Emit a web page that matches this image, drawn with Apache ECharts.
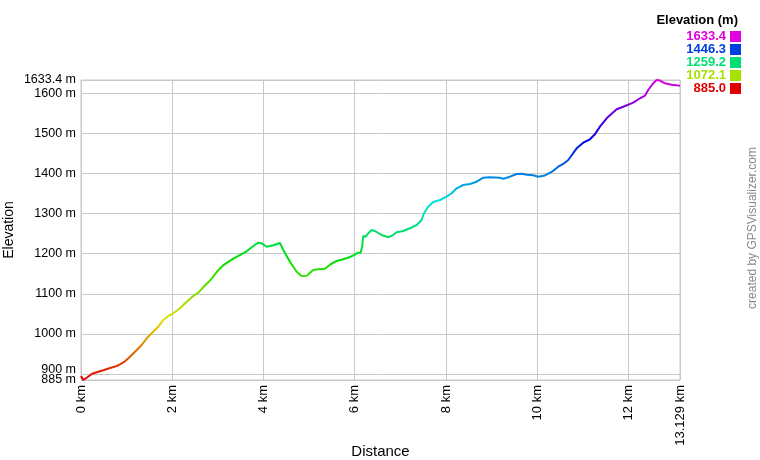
<!DOCTYPE html>
<html>
<head>
<meta charset="utf-8">
<script src="https://cdn.jsdelivr.net/npm/echarts@6/dist/echarts.min.js"></script>
<style>
html,body{margin:0;padding:0;background:#fff;}
#chart{width:760px;height:460px;}
</style>
</head>
<body>
<div id="chart"></div>
<script>
// distance along the track (km)
var distanceKm = [0, 0.05, 0.125, 0.234, 0.344, 0.489, 0.636, 0.782, 0.855, 0.964,
  1.074, 1.221, 1.330, 1.440, 1.549, 1.694, 1.804, 1.913, 2.023, 2.170,
  2.316, 2.461, 2.571, 2.680, 2.827, 2.974, 3.119, 3.338, 3.631, 3.776,
  3.886, 3.960, 4.070, 4.214, 4.361, 4.434, 4.580, 4.727, 4.837, 4.946,
  5.091, 5.238, 5.347, 5.457, 5.604, 5.748, 5.895, 6.005, 6.077, 6.130,
  6.165, 6.187, 6.239, 6.296, 6.371, 6.443, 6.553, 6.625, 6.735, 6.809,
  6.919, 7.063, 7.210, 7.357, 7.467, 7.517, 7.611, 7.721, 7.868, 8.014,
  8.124, 8.234, 8.378, 8.525, 8.672, 8.817, 8.963, 9.183, 9.255, 9.402,
  9.549, 9.658, 9.768, 9.912, 10.022, 10.169, 10.316, 10.460, 10.570, 10.680,
  10.864, 11.008, 11.155, 11.265, 11.374, 11.521, 11.740, 11.885, 12.104, 12.251,
  12.360, 12.433, 12.529, 12.617, 12.689, 12.799, 12.946, 13.055, 13.129];
// elevation (m)
var elevationM = [895.0, 885.0, 890.7, 900.0, 904.2, 909.2, 914.9, 919.9, 924.2, 931.7,
  943.1, 959.8, 972.3, 989.0, 1001.5, 1018.0, 1034.7, 1044.7, 1051.4, 1063.9,
  1080.3, 1094.6, 1102.8, 1116.3, 1133.2, 1154.4, 1171.4, 1187.6, 1206.1, 1219.3,
  1227.5, 1226.0, 1217.5, 1221.0, 1226.8, 1209.3, 1180.1, 1155.2, 1144.5, 1145.2,
  1159.4, 1161.9, 1162.7, 1172.6, 1181.9, 1186.1, 1191.9, 1197.6, 1202.6, 1202.6,
  1219.3, 1244.2, 1242.5, 1251.0, 1259.2, 1256.7, 1249.2, 1245.0, 1241.8, 1244.2,
  1253.5, 1256.7, 1263.5, 1271.7, 1284.2, 1300.9, 1317.3, 1329.1, 1334.0, 1342.3,
  1350.8, 1363.2, 1371.5, 1374.0, 1379.7, 1389.7, 1390.7, 1389.7, 1387.2, 1392.2,
  1398.9, 1399.7, 1397.2, 1395.7, 1392.2, 1395.2, 1404.0, 1417.2, 1423.9, 1433.8,
  1463.0, 1477.0, 1485.5, 1498.0, 1517.0, 1537.9, 1560.3, 1566.8, 1576.8, 1587.8,
  1594.3, 1608.5, 1623.5, 1633.4, 1632.0, 1625.2, 1621.7, 1620.2, 1619.2];

var elevMin = 885.0;
var elevMax = 1633.4;
var yTickValues = [885, 1000, 1100, 1200, 1300, 1400, 1500, 1600, 1633.4];
var yExtraTicks = [900];
var xTickValues = [0, 2, 4, 6, 8, 10, 12, 13.129];
var legendValues = [1633.4, 1446.3, 1259.2, 1072.1, 885.0];
var legendColors = ['#e000e0', '#0040e0', '#00e070', '#a8e000', '#e00000'];
var hueStops = ['#e00000', '#e07000', '#e0e000', '#70e000', '#00e000', '#00e070',
  '#00e0e0', '#0070e0', '#0000e0', '#7000e0', '#e000e0'];

var seriesData = distanceKm.map(function (d, i) { return [d, elevationM[i]]; });

var FONT = 'Liberation Sans, Arial, sans-serif';
var graphics = [
  { type: 'text', right: 22, top: 14,
    style: { text: 'Elevation (m)', font: 'bold 13px ' + FONT, fill: '#000' } },
  { type: 'text', x: 753, y: 228, rotation: Math.PI / 2,
    style: { text: 'created by GPSVisualizer.com', font: '12px ' + FONT, fill: '#888',
      align: 'center', verticalAlign: 'middle' } }
];
legendValues.forEach(function (v, i) {
  var cy = 36 + i * 13;
  graphics.push({ type: 'text', x: 726, y: cy,
    style: { text: v.toFixed(1), font: 'bold 13px ' + FONT, fill: legendColors[i],
      align: 'right', verticalAlign: 'middle' } });
  graphics.push({ type: 'rect', shape: { x: 730, y: cy - 5, width: 11, height: 11 },
    style: { fill: legendColors[i] } });
});

function yAxisBase(ticks, showName, labelExtra) {
  var label = { customValues: ticks, margin: 5, fontSize: 12.5, color: '#000',
    fontFamily: FONT, hideOverlap: false, showMinLabel: true, showMaxLabel: true,
    formatter: function (v) { return v + ' m'; } };
  if (labelExtra) { for (var k in labelExtra) label[k] = labelExtra[k]; }
  return {
    type: 'value', min: elevMin, max: elevMax, position: 'left', offset: 0,
    name: showName ? 'Elevation' : '', nameLocation: 'middle', nameGap: 65,
    nameMoveOverlap: false,
    nameTextStyle: { fontSize: 14, color: '#000', fontFamily: FONT },
    axisLine: { show: false },
    axisTick: { show: false, customValues: ticks },
    axisLabel: label,
    splitLine: { show: true, lineStyle: { color: '#c8c8c8', width: 1 } }
  };
}

var chart = echarts.init(document.getElementById('chart'), null, { renderer: 'canvas' });
chart.setOption({
  animation: false,
  backgroundColor: '#fff',
  grid: { left: 81, right: 80, top: 80, bottom: 80, show: true,
    containLabel: false, outerBoundsMode: 'none',
    borderColor: '#c8c8c8', borderWidth: 1, backgroundColor: 'transparent' },
  xAxis: {
    type: 'value', min: 0, max: 13.129,
    name: 'Distance', nameLocation: 'middle', nameGap: 64, nameMoveOverlap: false,
    nameTextStyle: { fontSize: 15, color: '#000', fontFamily: FONT },
    axisLine: { show: false },
    axisTick: { show: false, customValues: xTickValues },
    axisLabel: { customValues: xTickValues, rotate: 90, margin: 5, fontSize: 13,
      color: '#000', fontFamily: FONT, hideOverlap: false,
      showMinLabel: true, showMaxLabel: true,
      formatter: function (v) { return v + ' km'; } },
    splitLine: { show: true, lineStyle: { color: '#c8c8c8', width: 1 } }
  },
  yAxis: [
    yAxisBase(yTickValues, true),
    yAxisBase(yExtraTicks, false, { verticalAlign: 'bottom', lineHeight: 8 })
  ],
  visualMap: {
    show: false, type: 'continuous', dimension: 1, seriesIndex: 0,
    min: elevMin, max: elevMax,
    inRange: { color: hueStops }
  },
  series: [{
    type: 'line', data: seriesData, showSymbol: false, smooth: false,
    lineStyle: { width: 2 }
  }],
  graphic: graphics
});
</script>
</body>
</html>
